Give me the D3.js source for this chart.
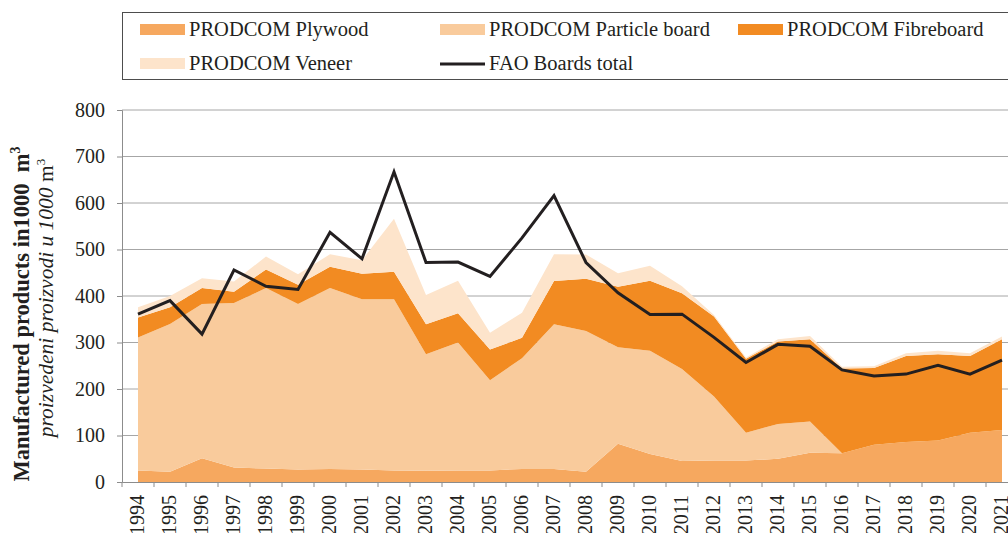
<!DOCTYPE html>
<html>
<head>
<meta charset="utf-8">
<script src="https://cdn.jsdelivr.net/npm/d3@7"></script>
<style>
  body { margin: 0; background: #fff; }
  svg { display: block; font-family: "Liberation Serif", "Times New Roman", serif; }
</style>
</head>
<body>
<div id="grafico"></div>
<script>
var years = [1994, 1995, 1996, 1997, 1998, 1999, 2000, 2001, 2002, 2003, 2004, 2005, 2006, 2007,
  2008, 2009, 2010, 2011, 2012, 2013, 2014, 2015, 2016, 2017, 2018, 2019, 2020, 2021];
var plywood = [25, 22, 51, 31, 29, 27, 28, 27, 25, 24, 25, 25, 28, 28,
  22, 82, 60, 45, 46, 46, 50, 63, 62, 80, 86, 89, 106, 112];
var particleBoard = [286, 318, 332, 354, 388, 356, 389, 366, 368, 251, 275, 194, 238, 311,
  303, 208, 222, 198, 138, 60, 75, 67, 0, 0, 0, 0, 0, 0];
var fibreboard = [43, 36, 34, 24, 40, 41, 46, 55, 59, 64, 63, 66, 44, 93,
  112, 130, 151, 163, 172, 159, 177, 177, 182, 165, 185, 186, 165, 195];
var veneer = [22, 24, 21, 22, 28, 23, 27, 29, 114, 63, 70, 36, 54, 58,
  52, 29, 32, 15, 3, 3, 5, 7, 4, 4, 6, 7, 6, 6];
var faoTotal = [361, 390, 318, 456, 421, 414, 537, 480, 667, 472, 473, 442, 525, 616,
  472, 407, 360, 361, 311, 257, 296, 292, 241, 228, 232, 251, 232, 262];
var yTicks = [0, 100, 200, 300, 400, 500, 600, 700, 800];

var seriesKeys = ["plywood", "particle", "fibre", "veneer"];
var seriesNames = ["PRODCOM Plywood", "PRODCOM Particle board", "PRODCOM Fibreboard", "PRODCOM Veneer"];
var seriesColors = ["#f6a85f", "#f9cb9c", "#f28b22", "#fde4cb"];

var svgWidth = 1008;
var svgHeight = 533;

var svg = d3.select("#grafico")
  .append("svg")
  .attr("width", svgWidth)
  .attr("height", svgHeight);

var plot = { left: 122, right: 1018, top: 110, bottom: 482 };

// table for the stack
var tabla = years.map(function (y, i) {
  return { year: y, plywood: plywood[i], particle: particleBoard[i], fibre: fibreboard[i], veneer: veneer[i] };
});
var stacked = d3.stack().keys(seriesKeys)(tabla);

var xScale = d3.scaleBand()
  .domain(years)
  .range([plot.left, plot.right])
  .padding(0);

var yScale = d3.scaleLinear()
  .domain([0, 800])
  .range([plot.bottom, plot.top]);

var xc = function (y) { return xScale(y) + xScale.bandwidth() / 2; };

// gridlines
svg.append("g")
  .selectAll("line")
  .data(yTicks.slice(1))
  .enter()
  .append("line")
  .attr("x1", plot.left)
  .attr("x2", plot.right)
  .attr("y1", function (d) { return yScale(d); })
  .attr("y2", function (d) { return yScale(d); })
  .attr("stroke", "#a6a6a6")
  .attr("stroke-width", 1);

// stacked areas
var area = d3.area()
  .x(function (d) { return xc(d.data.year); })
  .y0(function (d) { return yScale(d[0]); })
  .y1(function (d) { return yScale(d[1]); });

svg.append("g")
  .selectAll("path")
  .data(stacked)
  .enter()
  .append("path")
  .attr("d", area)
  .attr("fill", function (d, i) { return seriesColors[i]; });

// FAO line
var line = d3.line()
  .x(function (d, i) { return xc(years[i]); })
  .y(function (d) { return yScale(d); });

svg.append("path")
  .datum(faoTotal)
  .attr("d", line)
  .attr("fill", "none")
  .attr("stroke", "#231f20")
  .attr("stroke-width", 3)
  .attr("stroke-linejoin", "miter");

// axes
var yAxis = d3.axisLeft(yScale).tickValues(yTicks).tickSize(5).tickPadding(12);
var gy = svg.append("g")
  .attr("transform", "translate(" + plot.left + ",0)")
  .call(yAxis);
gy.select(".domain").attr("stroke", "#8c8c8c");
gy.selectAll(".tick line").attr("stroke", "#8c8c8c");
gy.selectAll(".tick text")
  .attr("font-family", "Liberation Serif, serif")
  .attr("font-size", 20)
  .attr("fill", "#231f20");

var xAxis = d3.axisBottom(xScale).tickSize(0).tickPadding(0);
var gx = svg.append("g")
  .attr("transform", "translate(0," + plot.bottom + ")")
  .call(xAxis);
gx.select(".domain").attr("stroke", "#8c8c8c");
gx.selectAll(".tick text")
  .attr("font-family", "Liberation Serif, serif")
  .attr("font-size", 20)
  .attr("fill", "#231f20")
  .attr("text-anchor", "end")
  .attr("dy", null)
  .attr("y", 0)
  .attr("transform", "translate(6,13) rotate(-90)");

// band boundary tick marks
svg.append("g")
  .selectAll("line")
  .data(years)
  .enter()
  .append("line")
  .attr("x1", function (d) { return xScale(d); })
  .attr("x2", function (d) { return xScale(d); })
  .attr("y1", plot.bottom)
  .attr("y2", plot.bottom + 5)
  .attr("stroke", "#8c8c8c");

// y title
var t1 = svg.append("text")
  .attr("transform", "translate(29,314) rotate(-90)")
  .attr("text-anchor", "middle")
  .attr("font-size", 22.5)
  .attr("font-weight", "bold")
  .attr("fill", "#231f20");
t1.append("tspan").text("Manufactured products in1000\u00a0\u00a0m");
t1.append("tspan").attr("font-size", 14).attr("dy", -9).text("3");

var t2 = svg.append("text")
  .attr("transform", "translate(53,298) rotate(-90)")
  .attr("text-anchor", "middle")
  .attr("font-size", 21.5)
  .attr("fill", "#231f20");
t2.append("tspan").attr("font-style", "italic").text("proizvedeni proizvodi u 1000 ");
t2.append("tspan").text("m");
t2.append("tspan").attr("font-size", 13).attr("dy", -8).text("3");

// legend
svg.append("rect")
  .attr("x", 122.5)
  .attr("y", 12.5)
  .attr("width", 1000)
  .attr("height", 67)
  .attr("fill", "none")
  .attr("stroke", "#4d4d4d")
  .attr("stroke-width", 1);

var legendItems = [
  { name: seriesNames[0], color: seriesColors[0], x: 140, y: 24, kind: "rect" },
  { name: seriesNames[1], color: seriesColors[1], x: 440, y: 24, kind: "rect" },
  { name: seriesNames[2], color: seriesColors[2], x: 738, y: 24, kind: "rect" },
  { name: seriesNames[3], color: seriesColors[3], x: 140, y: 58, kind: "rect" },
  { name: "FAO Boards total", color: "#231f20", x: 440, y: 58, kind: "line" }
];

var lg = svg.append("g")
  .selectAll("g")
  .data(legendItems)
  .enter()
  .append("g")
  .attr("transform", function (d) { return "translate(" + d.x + "," + d.y + ")"; });

lg.filter(function (d) { return d.kind === "rect"; })
  .append("rect")
  .attr("width", 45)
  .attr("height", 11)
  .attr("fill", function (d) { return d.color; });

lg.filter(function (d) { return d.kind === "line"; })
  .append("line")
  .attr("x1", 0)
  .attr("x2", 45)
  .attr("y1", 6)
  .attr("y2", 6)
  .attr("stroke", function (d) { return d.color; })
  .attr("stroke-width", 3);

lg.append("text")
  .attr("x", 49)
  .attr("y", 12)
  .attr("font-size", 20.5)
  .attr("fill", "#231f20")
  .text(function (d) { return d.name; });
</script>
</body>
</html>
